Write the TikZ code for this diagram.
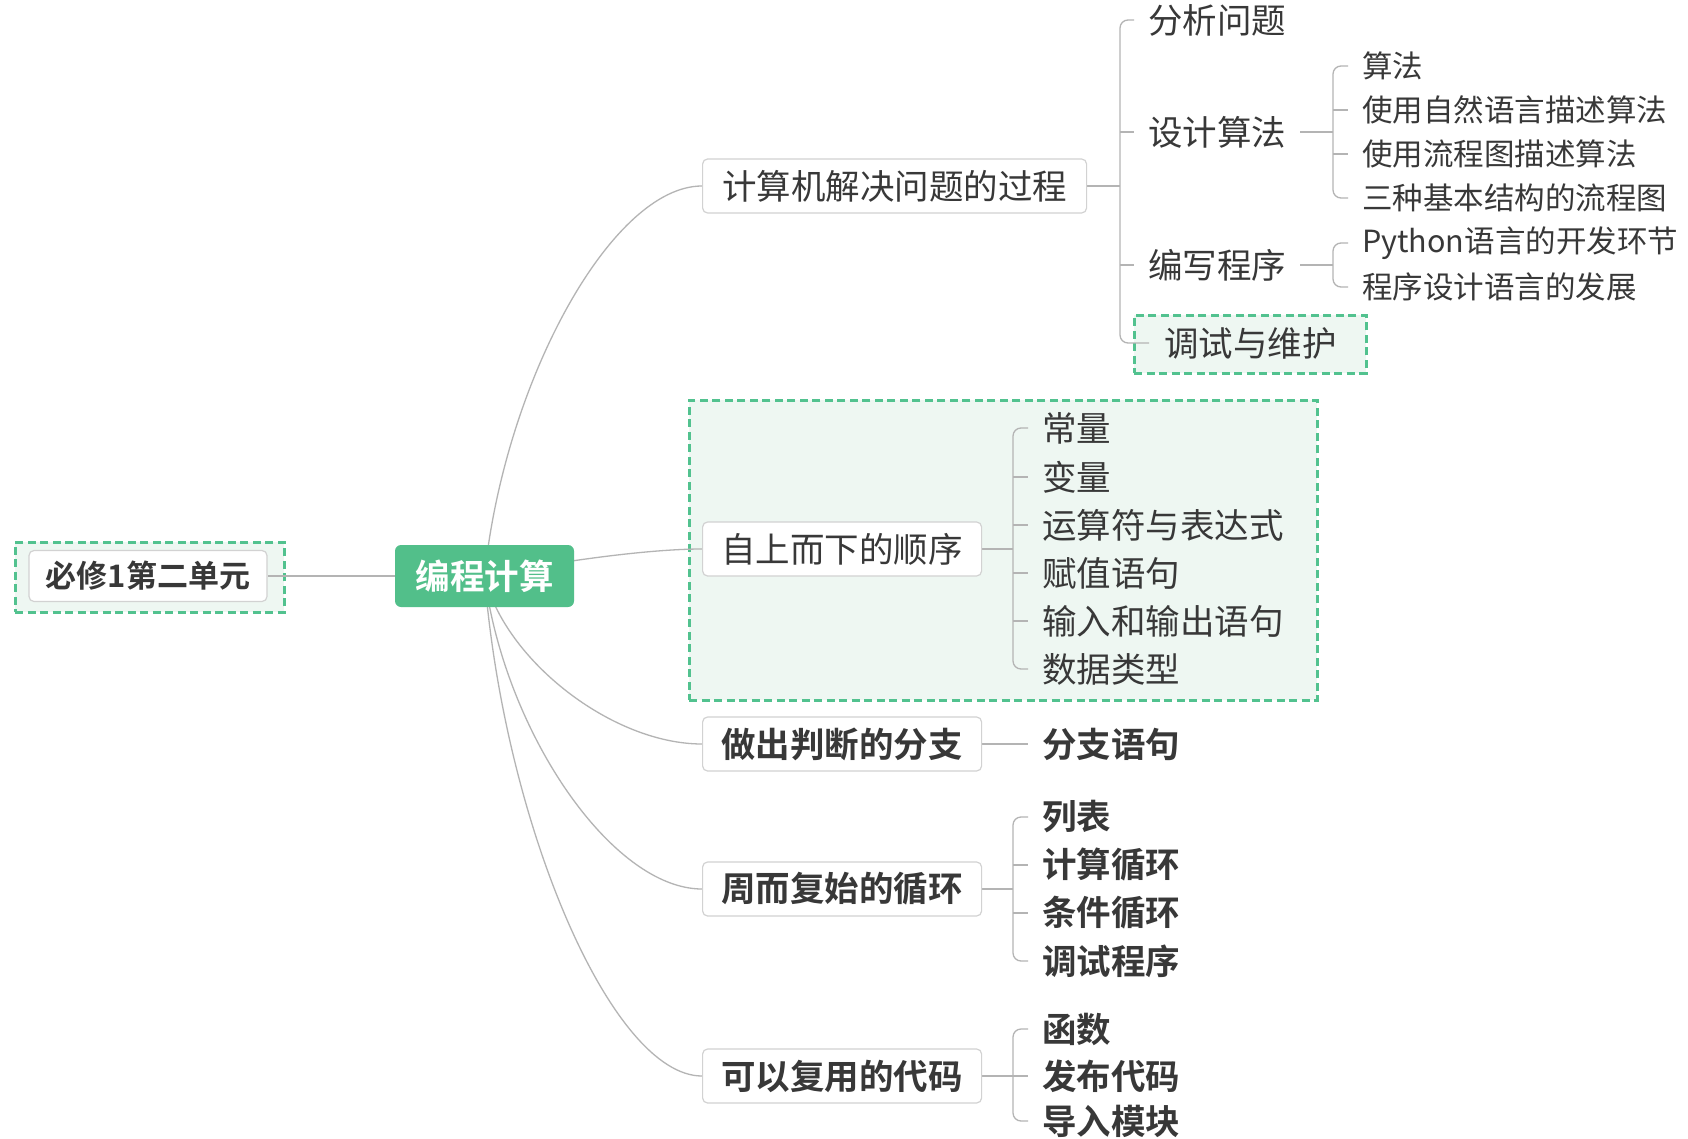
\documentclass[tikz,border=0pt]{standalone}
\usepackage{fontspec}
\setmainfont{Noto Sans CJK SC}[BoldFont={Noto Sans CJK SC Bold}]
\definecolor{txt}{HTML}{383838}
\definecolor{edgec}{HTML}{B4B4B4}
\definecolor{boxline}{HTML}{D2D2D2}
\definecolor{mgreen}{HTML}{52BF8A}
\definecolor{dgreen}{HTML}{52C28F}
\definecolor{lgreen}{HTML}{EEF7F2}
\pgfdeclarelayer{bg}
\pgfdeclarelayer{lines}
\pgfsetlayers{bg,lines,main}
\begin{document}
\begin{tikzpicture}[x=1pt,y=-1pt,
  every node/.style={text=txt, font=\fontsize{34.5}{40}\selectfont},
  big/.style={font=\fontsize{34.5}{40}\selectfont},
  bigb/.style={font=\fontsize{34.5}{40}\selectfont\bfseries},
  small/.style={font=\fontsize{30.5}{36}\selectfont},
  lone/.style={draw=boxline, line width=1.2pt, fill=white, rounded corners=5pt,
    inner xsep=17pt, minimum height=54pt, minimum width=279pt, anchor=west},
  leaf/.style={inner xsep=14pt, inner ysep=2pt, anchor=west},
  bound/.style={draw=dgreen, dash pattern=on 8pt off 4.5pt, line width=2.6pt,
    fill=lgreen, anchor=north west, inner sep=0pt},
  conn/.style={draw=edgec, line width=1.3pt},
  brack/.style={conn, rounded corners=8pt}
]
\useasboundingbox (0,0) rectangle (1688,1139);
\begin{pgfonlayer}{bg}
  \fill[white] (0,0) rectangle (1688,1139);
  \node[bound, minimum width=269pt, minimum height=70pt] (rb) at (14,541) {};
  \node[bound, minimum width=628pt, minimum height=300pt] (bb) at (688,399) {};
  \node[bound, minimum width=232pt, minimum height=58pt] (ab) at (1133,314) {};
\end{pgfonlayer}

% root and centre
\node[draw=boxline, line width=1.2pt, fill=white, rounded corners=5pt,
  minimum width=238pt, minimum height=51pt,
  font=\fontsize{31}{36}\selectfont\bfseries] (root) at (148,576) {必修1第二单元};
\node[fill=mgreen, rounded corners=6pt, minimum width=179pt, minimum height=62pt,
  text=white, bigb] (c) at (484.5,576) {编程计算};

% level 1
\node[lone, big, minimum width=384pt] (A) at (702,186)  {计算机解决问题的过程};
\node[lone, big]  (B) at (702,549)  {自上而下的顺序};
\node[lone, bigb] (C) at (702,744)  {做出判断的分支};
\node[lone, bigb] (D) at (702,889)  {周而复始的循环};
\node[lone, bigb] (E) at (702,1076) {可以复用的代码};

% A children
\node[leaf, big] (a1) at (1134,20)  {分析问题};
\node[leaf, big] (a2) at (1134,132) {设计算法};
\node[leaf, big] (a3) at (1134,265) {编写程序};
\node[leaf, big, inner xsep=15pt] (a4) at (1149,343) {调试与维护};
\node[leaf, small] (a21) at (1348,66)  {算法};
\node[leaf, small] (a22) at (1348,110) {使用自然语言描述算法};
\node[leaf, small] (a23) at (1348,154) {使用流程图描述算法};
\node[leaf, small] (a24) at (1348,198) {三种基本结构的流程图};
\node[leaf, small] (a31) at (1348,243) {Python语言的开发环节};
\node[leaf, small] (a32) at (1348,287) {程序设计语言的发展};

% B children
\node[leaf, big] (b1) at (1028,428) {常量};
\node[leaf, big] (b2) at (1028,477) {变量};
\node[leaf, big] (b3) at (1028,525) {运算符与表达式};
\node[leaf, big] (b4) at (1028,573) {赋值语句};
\node[leaf, big] (b5) at (1028,621) {输入和输出语句};
\node[leaf, big] (b6) at (1028,669) {数据类型};

% C child
\node[leaf, bigb] (c1) at (1028,744) {分支语句};

% D children
\node[leaf, bigb] (d1) at (1028,817) {列表};
\node[leaf, bigb] (d2) at (1028,865) {计算循环};
\node[leaf, bigb] (d3) at (1028,913) {条件循环};
\node[leaf, bigb] (d4) at (1028,961) {调试程序};

% E children
\node[leaf, bigb] (e1) at (1028,1029) {函数};
\node[leaf, bigb] (e2) at (1028,1076) {发布代码};
\node[leaf, bigb] (e3) at (1028,1121) {导入模块};

% spine coordinates
\coordinate (sA) at (1120,186);
\coordinate (s2) at (1333,132);
\coordinate (s3) at (1333,265);
\coordinate (sB) at (1013,549);
\coordinate (sD) at (1013,889);
\coordinate (sE) at (1013,1076);

\begin{pgfonlayer}{lines}
  \draw[conn] (root.east) -- (c.west);
  \draw[conn] (c.center) .. controls +(20,-195) and +(-90,0) .. (A.west);
  \draw[conn] (c.center) .. controls +(60,-12) and +(-60,0) .. (B.west);
  \draw[conn] (c.center) .. controls +(20,84) and +(-90,0) .. (C.west);
  \draw[conn] (c.center) .. controls +(20,156) and +(-90,0) .. (D.west);
  \draw[conn] (c.center) .. controls +(20,250) and +(-90,0) .. (E.west);

  % A bracket
  \draw[conn] (A.east) -- (sA);
  \draw[brack] (a1.west) -| (sA) |- (a4.west);
  \draw[conn] (sA|-a2.west) -- (a2.west);
  \draw[conn] (sA|-a3.west) -- (a3.west);
  % a2 bracket
  \draw[conn] (a2.east) -- (s2);
  \draw[brack] (a21.west) -| (s2) |- (a24.west);
  \draw[conn] (s2|-a22.west) -- (a22.west);
  \draw[conn] (s2|-a23.west) -- (a23.west);
  % a3 bracket
  \draw[conn] (a3.east) -- (s3);
  \draw[brack] (a31.west) -| (s3) |- (a32.west);
  % B bracket
  \draw[conn] (B.east) -- (sB);
  \draw[brack] (b1.west) -| (sB) |- (b6.west);
  \draw[conn] (sB|-b2.west) -- (b2.west);
  \draw[conn] (sB|-b3.west) -- (b3.west);
  \draw[conn] (sB|-b4.west) -- (b4.west);
  \draw[conn] (sB|-b5.west) -- (b5.west);
  % C
  \draw[conn] (C.east) -- (c1.west);
  % D bracket
  \draw[conn] (D.east) -- (sD);
  \draw[brack] (d1.west) -| (sD) |- (d4.west);
  \draw[conn] (sD|-d2.west) -- (d2.west);
  \draw[conn] (sD|-d3.west) -- (d3.west);
  % E bracket
  \draw[conn] (E.east) -- (sE);
  \draw[brack] (e1.west) -| (sE) |- (e3.west);
  \draw[conn] (sE|-e2.west) -- (e2.west);
\end{pgfonlayer}
\end{tikzpicture}
\end{document}
